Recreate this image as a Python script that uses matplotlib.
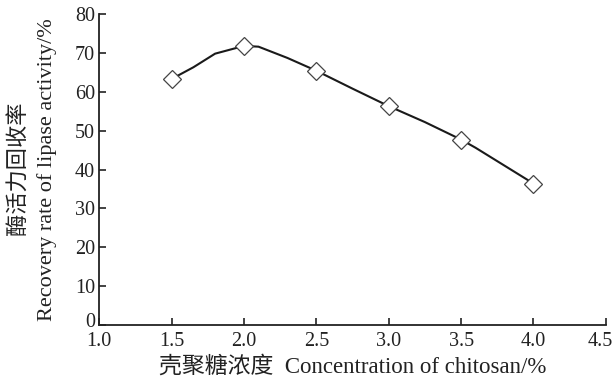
import matplotlib
matplotlib.use("Agg")
import matplotlib.pyplot as plt
from matplotlib.transforms import ScaledTranslation

# marker points
conc = [1.5, 2.0, 2.5, 3.0, 3.5, 4.0]
recovery = [63.3, 71.8, 65.4, 56.3, 47.7, 36.4]

# smoothed curve vertices
curve_x = [1.5, 1.65, 1.8, 2.0, 2.1, 2.3, 2.5, 2.75, 3.0, 3.25, 3.5, 3.6, 3.8, 4.0]
curve_y = [63.3, 66.3, 69.8, 71.8, 71.6, 68.7, 65.4, 60.8, 56.3, 52.2, 47.7, 45.6, 41.0, 36.4]

x_ticks = [1.0, 1.5, 2.0, 2.5, 3.0, 3.5, 4.0, 4.5]
y_ticks = [0, 10, 20, 30, 40, 50, 60, 70, 80]

xlabel = "壳聚糖浓度  Concentration of chitosan/%"
ylabel_cn = "酶活力回收率"
ylabel_en = "Recovery rate of lipase activity/%"

plt.rcParams["font.family"] = ["Liberation Serif", "Noto Sans CJK SC"]
ink = "#222222"

fig = plt.figure(figsize=(6.15, 3.83), dpi=100)
ax = fig.add_axes([0.1615, 0.1514, 0.8235, 0.812])

ax.plot(curve_x, curve_y, color="#1a1a1a", lw=1.5, zorder=2)
ax.plot(conc, recovery, ls="none", marker="D", ms=9.5, mfc="white",
        mec="#444444", mew=0.9, zorder=3)

ax.set_xlim(1.0, 4.5)
ax.set_ylim(0, 80)
ax.set_xticks(x_ticks)
ax.set_xticklabels([f"{v:.1f}" for v in x_ticks])
ax.set_yticks(y_ticks)

for s in ["top", "right"]:
    ax.spines[s].set_visible(False)
for s in ["left", "bottom"]:
    ax.spines[s].set_linewidth(1.3)
    ax.spines[s].set_color(ink)

ax.tick_params(direction="in", length=5, width=1.2, labelsize=14.5, colors=ink)
ax.tick_params(axis="x", pad=5)
ax.tick_params(axis="y", pad=3)

# last x tick label sits a little left so it stays inside the figure
last = ax.get_xticklabels()[-1]
last.set_transform(last.get_transform() + ScaledTranslation(-6 / 100, 0, fig.dpi_scale_trans))
# the "0" label sits on the axis line, clear of "1.0"
zero = ax.get_yticklabels()[0]
zero.set_transform(zero.get_transform() + ScaledTranslation(0, 5 / 100, fig.dpi_scale_trans))

fig.text(0.574, 0.042, xlabel, fontsize=16.5, color=ink, ha="center", va="center")
fig.text(0.030, 0.562, ylabel_cn, fontsize=16, color=ink, rotation=90,
         ha="center", va="center")
fig.text(0.077, 0.556, ylabel_en, fontsize=16, color=ink, rotation=90,
         ha="center", va="center")

fig.savefig("out.png", dpi=100)
